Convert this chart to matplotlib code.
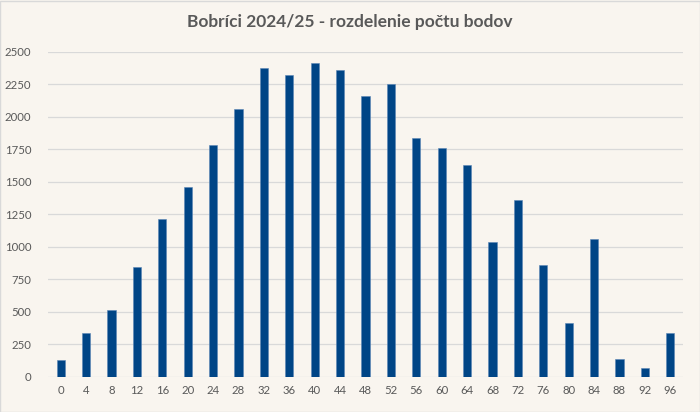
import matplotlib
matplotlib.use("Agg")
import matplotlib.pyplot as plt
from matplotlib.patches import Rectangle

# points (categories) and number of participants
points = [0, 4, 8, 12, 16, 20, 24, 28, 32, 36, 40, 44, 48,
          52, 56, 60, 64, 68, 72, 76, 80, 84, 88, 92, 96]
counts = [128, 338, 513, 844, 1215, 1459, 1785, 2062, 2374, 2323, 2413, 2359, 2161,
          2256, 1836, 1759, 1631, 1036, 1359, 861, 413, 1064, 138, 69, 336]
yticks = [0, 250, 500, 750, 1000, 1250, 1500, 1750, 2000, 2250, 2500]

bg = "#F9F5EF"
bar_color = "#004586"
text_color = "#595959"

plt.rcParams['font.family'] = ['Lato', 'DejaVu Sans']

fig = plt.figure(figsize=(7, 4.12), dpi=100, facecolor=bg)
ax = fig.add_axes([0.0686, 0.085, 0.9071, 0.7888])
ax.set_facecolor(bg)

x = list(range(len(points)))
ax.bar(x, counts, width=0.32, color=bar_color, edgecolor="#5A86B5", linewidth=0.4, zorder=3)

ax.set_xlim(-0.5, len(points) - 0.5)
ax.set_ylim(0, 2500)
ax.set_yticks(yticks)
ax.set_yticklabels([str(v) for v in yticks])
ax.set_xticks(x)
ax.set_xticklabels([str(p) for p in points])
ax.tick_params(axis='both', colors=text_color, labelsize=8.2, length=0)
ax.tick_params(axis='x', pad=6)
ax.tick_params(axis='y', pad=12)

ax.grid(axis='y', color="#D9D9D9", linewidth=0.9, zorder=0)
for s in ax.spines.values():
    s.set_visible(False)

fig.text(0.5, 0.947, "Bobríci 2024/25 - rozdelenie počtu bodov", ha='center', va='center',
         fontsize=12.5, fontweight='bold', color=text_color)

# thin border around the chart
fig.patches.append(Rectangle((0.0007, 0.001), 0.9986, 0.997, transform=fig.transFigure,
                             fill=False, edgecolor="#D9D9D9", linewidth=1))

fig.savefig("out.png", dpi=100, facecolor=bg)
